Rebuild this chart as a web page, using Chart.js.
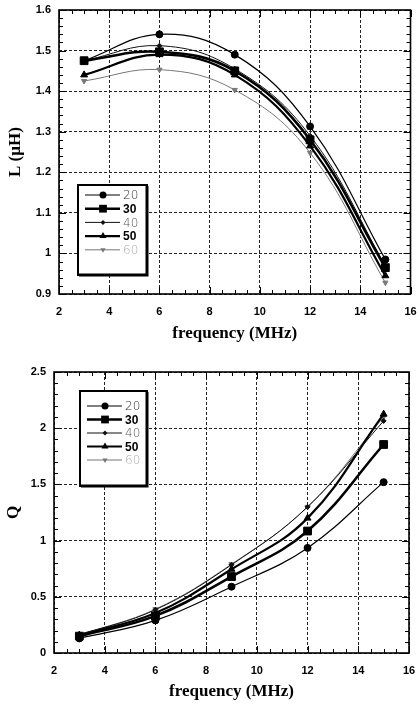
<!DOCTYPE html>
<html>
<head>
<meta charset="utf-8">
<script src="https://cdn.jsdelivr.net/npm/chart.js@4.4.1/dist/chart.umd.min.js"></script>
<style>
  html, body { margin: 0; padding: 0; background: #fff; }
  #top { position: absolute; left: 0; top: 0; width: 417px; height: 345px; }
  #bottom { position: absolute; left: 0; top: 345px; width: 417px; height: 360px; }
</style>
</head>
<body>
<div id="top"><canvas id="chartL"></canvas></div>
<div id="bottom"><canvas id="chartQ"></canvas></div>
<script>
// frequency points (MHz)
const freq = [3, 6, 9, 12, 15];
const seriesNames = ["20", "30", "40", "50", "60"];

// inductance L (uH)
const L20 = [1.475, 1.540, 1.490, 1.313, 0.985];
const L30 = [1.475, 1.497, 1.450, 1.280, 0.965];
const L40 = [1.475, 1.512, 1.455, 1.290, 0.970];
const L50 = [1.440, 1.490, 1.440, 1.265, 0.945];
const L60 = [1.425, 1.453, 1.403, 1.248, 0.928];

// quality factor Q
const Q20 = [0.13, 0.29, 0.59, 0.935, 1.52];
const Q30 = [0.15, 0.33, 0.68, 1.085, 1.855];
const Q40 = [0.16, 0.385, 0.785, 1.30, 2.065];
const Q50 = [0.16, 0.355, 0.745, 1.20, 2.125];
const Q60 = [0.16, 0.39, 0.79, 1.30, 2.10];

// tick labels
const xTicks = [2, 4, 6, 8, 10, 12, 14, 16];
const lTicks = [0.9, 1, 1.1, 1.2, 1.3, 1.4, 1.5, 1.6];
const qTicks = [0, 0.5, 1, 1.5, 2, 2.5];

// look of each series
const looks = [
  { pointStyle: "circle", radius: 3.5, width: 1.2, color: "#000", rotation: 0 },
  { pointStyle: "rect", radius: 5.5, width: 2.6, color: "#000", rotation: 0 },
  { pointStyle: "rectRot", radius: 2.5, width: 1, color: "#111", rotation: 0 },
  { pointStyle: "triangle", radius: 4, width: 2.2, color: "#000", rotation: 0 },
  { pointStyle: "triangle", radius: 3, width: 1, color: "#777", rotation: 180 }
];
const legendBold = [false, true, false, true, false];
const legendColor = ["#333", "#000", "#555", "#000", "#aaa"];

function makeSets(arrays) {
  return arrays.map((arr, i) => ({
    label: seriesNames[i],
    data: freq.map((f, j) => ({ x: f, y: arr[j] })),
    borderColor: looks[i].color,
    backgroundColor: looks[i].color,
    borderWidth: looks[i].width,
    pointStyle: looks[i].pointStyle,
    pointRadius: looks[i].radius,
    pointRotation: looks[i].rotation,
    pointBorderWidth: 1,
    tension: 0.4
  }));
}

// box + inner ticks
const framePlugin = {
  id: "frame",
  afterDatasetsDraw(chart, args, opts) {
    const { ctx, chartArea: a, scales: { x, y } } = chart;
    const isMajor = (v, m) => Math.abs(v / m - Math.round(v / m)) < 1e-6;
    ctx.save();
    ctx.strokeStyle = "#000";
    ctx.lineWidth = 1;
    ctx.beginPath();
    for (let k = 0; ; k++) {
      const v = x.min + k * opts.xMinor;
      if (v > x.max + 1e-9) break;
      const px = Math.round(x.getPixelForValue(v)) + 0.5;
      const len = isMajor(v, opts.xMajor) ? 7 : 4;
      ctx.moveTo(px, a.bottom); ctx.lineTo(px, a.bottom - len);
      ctx.moveTo(px, a.top); ctx.lineTo(px, a.top + len);
    }
    for (let k = 0; ; k++) {
      const v = y.min + k * opts.yMinor;
      if (v > y.max + 1e-9) break;
      const py = Math.round(y.getPixelForValue(v)) + 0.5;
      const len = isMajor(v, opts.yMajor) ? 7 : 4;
      ctx.moveTo(a.left, py); ctx.lineTo(a.left + len, py);
      ctx.moveTo(a.right, py); ctx.lineTo(a.right - len, py);
    }
    ctx.stroke();
    ctx.lineWidth = 1.6;
    ctx.strokeRect(a.left, a.top, a.right - a.left, a.bottom - a.top);
    ctx.restore();
  }
};

function marker(ctx, style, r, rot, x, y) {
  ctx.beginPath();
  if (style === "circle") {
    ctx.arc(x, y, r, 0, Math.PI * 2);
  } else if (style === "rect") {
    const s = r * Math.SQRT1_2;
    ctx.rect(x - s, y - s, 2 * s, 2 * s);
  } else if (style === "rectRot") {
    ctx.moveTo(x, y - r); ctx.lineTo(x + r, y); ctx.lineTo(x, y + r); ctx.lineTo(x - r, y);
    ctx.closePath();
  } else {
    const d = rot === 180 ? -1 : 1;
    ctx.moveTo(x, y - d * r);
    ctx.lineTo(x + r * 0.87, y + d * r * 0.5);
    ctx.lineTo(x - r * 0.87, y + d * r * 0.5);
    ctx.closePath();
  }
  ctx.fill();
}

// legend box inside the plot
const boxLegend = {
  id: "boxLegend",
  afterDatasetsDraw(chart, args, opts) {
    const { ctx, chartArea: a } = chart;
    const bx = a.left + opts.left, by = a.top + opts.top;
    ctx.save();
    ctx.fillStyle = "#fff";
    ctx.fillRect(bx, by, opts.width, opts.height);
    ctx.strokeStyle = "#000";
    ctx.lineWidth = 2;
    ctx.strokeRect(bx, by, opts.width, opts.height);
    ctx.lineWidth = 3;
    ctx.beginPath();
    ctx.moveTo(bx + 1, by + opts.height); ctx.lineTo(bx + opts.width, by + opts.height);
    ctx.lineTo(bx + opts.width, by + 1);
    ctx.stroke();
    chart.data.datasets.forEach((ds, i) => {
      const ry = by + opts.firstRow + i * opts.rowGap;
      ctx.strokeStyle = ds.borderColor;
      ctx.fillStyle = ds.backgroundColor;
      ctx.lineWidth = ds.borderWidth;
      ctx.beginPath();
      ctx.moveTo(bx + 7, ry); ctx.lineTo(bx + 42, ry);
      ctx.stroke();
      marker(ctx, ds.pointStyle, ds.pointRadius, ds.pointRotation, bx + 25, ry);
      ctx.fillStyle = legendColor[i];
      ctx.font = legendBold[i] ? "bold 12px 'Liberation Sans'" : "200 12px 'DejaVu Sans'";
      ctx.textBaseline = "middle";
      ctx.textAlign = "left";
      ctx.fillText(ds.label, bx + 45, ry + 1);
    });
    ctx.restore();
  }
};

const tickFont = { family: "'Liberation Sans', Arial, sans-serif", size: 11, weight: "bold" };
const titleFont = { family: "'Liberation Serif', 'Times New Roman', serif", size: 17, weight: "bold" };
const plainNum = v => String(+Number(v).toFixed(3));

function makeChart(id, sets, cfg) {
  return new Chart(document.getElementById(id), {
    type: "line",
    data: { datasets: sets },
    plugins: [framePlugin, boxLegend],
    options: {
      responsive: true,
      maintainAspectRatio: false,
      animation: false,
      events: [],
      layout: { padding: cfg.padding },
      plugins: {
        legend: { display: false },
        tooltip: { enabled: false },
        frame: cfg.frame,
        boxLegend: cfg.legend
      },
      scales: {
        x: {
          type: "linear",
          min: 2, max: 16,
          afterBuildTicks: s => { s.ticks = xTicks.map(v => ({ value: v })); },
          afterFit: s => { s.height = cfg.xHeight; s.paddingLeft = 0; s.paddingRight = 0; },
          grid: { color: "#222", lineWidth: 1, drawTicks: false },
          border: { display: false, dash: [3, 2] },
          ticks: { color: "#000", font: tickFont, padding: 11, maxRotation: 0, autoSkip: false, callback: plainNum },
          title: { display: true, text: "frequency (MHz)", color: "#000", font: titleFont, padding: { top: 0, bottom: cfg.xTitlePad } }
        },
        y: {
          type: "linear",
          min: cfg.yMin, max: cfg.yMax,
          afterBuildTicks: s => { s.ticks = cfg.yTicks.map(v => ({ value: v })); },
          afterFit: s => { s.width = cfg.yWidth; s.paddingTop = 0; s.paddingBottom = 0; },
          grid: { color: "#222", lineWidth: 1, drawTicks: false },
          border: { display: false, dash: [3, 2] },
          ticks: { color: "#000", font: tickFont, padding: 8, autoSkip: false, callback: plainNum },
          title: { display: true, text: cfg.yTitle, color: "#000", font: titleFont, padding: { top: cfg.yTitlePad, bottom: 0 } }
        }
      }
    }
  });
}

makeChart("chartL", makeSets([L20, L30, L40, L50, L60]), {
  padding: { top: 10, right: 1, left: 0, bottom: 0 },
  xHeight: 51, yWidth: 59, xTitlePad: 1, yTitlePad: 5,
  yMin: 0.9, yMax: 1.6, yTicks: lTicks, yTitle: "L (\u00b5H)",
  frame: { xMinor: 0.5, xMajor: 2, yMinor: 0.02, yMajor: 0.1 },
  legend: { left: 19, top: 175, width: 69, height: 90, firstRow: 10, rowGap: 13.7 }
});

makeChart("chartQ", makeSets([Q20, Q30, Q40, Q50, Q60]), {
  padding: { top: 27, right: 8, left: 0, bottom: 0 },
  xHeight: 52, yWidth: 54, xTitlePad: 3, yTitlePad: 3,
  yMin: 0, yMax: 2.5, yTicks: qTicks, yTitle: "Q",
  frame: { xMinor: 0.5, xMajor: 2, yMinor: 0.1, yMajor: 0.5 },
  legend: { left: 26, top: 19, width: 67, height: 95, firstRow: 15, rowGap: 13.5 }
});
</script>
</body>
</html>
